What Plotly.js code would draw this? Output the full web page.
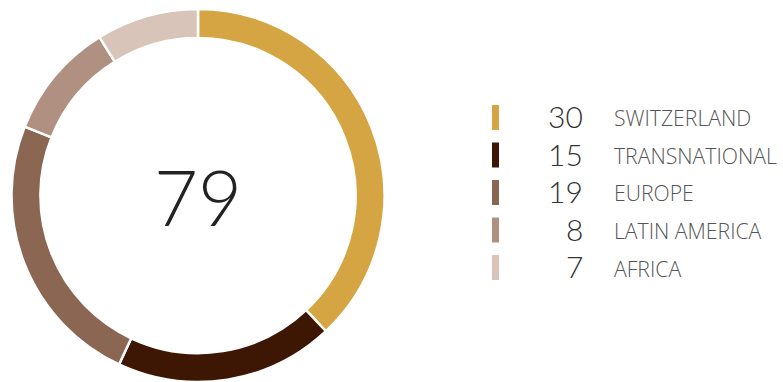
<!DOCTYPE html>
<html><head><meta charset="utf-8">
<script src="https://cdn.plot.ly/plotly-3.0.1.min.js"></script>
<style>html,body{margin:0;padding:0;background:#fff}</style>
</head><body>
<div id="chart" style="width:783px;height:382px"></div>
<script>
const categories = ["SWITZERLAND", "TRANSNATIONAL", "EUROPE", "LATIN AMERICA", "AFRICA"];
const values = [30, 15, 19, 8, 7];
const colors = ["#D4A542", "#3E1604", "#8A6653", "#B09080", "#D8C4B8"];
const totalLabel = "79";

const W = 783, H = 382;
const rowY0 = 117.5, rowStep = 37.5;
const annotations = [{
  text: totalLabel, x: 198 / W, y: 1 - 196 / H, xref: "paper", yref: "paper",
  showarrow: false, xanchor: "center", yanchor: "middle",
  font: {family: "Lato", size: 76, color: "#222", weight: 300}
}];
const shapes = [];
categories.forEach((c, i) => {
  const yc = rowY0 + i * rowStep;
  shapes.push({type: "rect", xref: "paper", yref: "paper",
    x0: 492 / W, x1: 499 / W, y0: 1 - (yc - 12.5) / H, y1: 1 - (yc + 12.5) / H,
    fillcolor: colors[i], line: {width: 0}});
  annotations.push({text: String(values[i]), x: 585 / W, y: 1 - (yc - 1.5) / H, xref: "paper", yref: "paper",
    showarrow: false, xanchor: "right", yanchor: "middle",
    font: {family: "Lato", size: 30, color: "#333", weight: 300}});
  annotations.push({text: c, x: 612 / W, y: 1 - (yc + 0.5) / H, xref: "paper", yref: "paper",
    showarrow: false, xanchor: "left", yanchor: "middle",
    font: {family: "Open Sans", size: 21.2, color: "#555", weight: 300}});
});

Plotly.newPlot("chart", [{
  type: "pie", values: values, labels: categories, sort: false, direction: "clockwise",
  hole: 0.845, textinfo: "none", hoverinfo: "label+value",
  marker: {colors: colors, line: {color: "#fff", width: 2.5}},
  domain: {x: [10 / W, 386 / W], y: [0, 1 - 9 / H]}
}], {
  width: W, height: H, margin: {l: 0, r: 0, t: 0, b: 0},
  showlegend: false, paper_bgcolor: "#fff",
  annotations: annotations, shapes: shapes
}, {displayModeBar: false, staticPlot: true});
</script>
</body></html>
